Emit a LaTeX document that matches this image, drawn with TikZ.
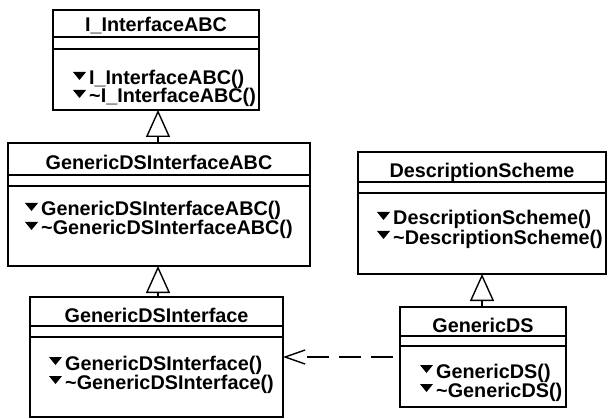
\documentclass[tikz,border=0pt]{standalone}
\usepackage{fontspec}
\setmainfont{Liberation Sans}
\usetikzlibrary{arrows.meta}
\newcommand\umlfont{\bfseries\fontsize{19.8}{20}\selectfont}
\tikzset{
  classbox/.style={draw, rectangle, line width=1.4pt, inner sep=0pt, outer sep=0pt, anchor=north west},
  divider/.style={line width=1.4pt},
  ctitle/.style={inner sep=0pt, anchor=base, font=\umlfont},
  op/.style={inner sep=0pt, anchor=base west, font=\umlfont},
  gen/.style={line width=1.4pt, -{Triangle[open, length=27pt, width=24pt]}},
  dep/.style={line width=1.4pt,
    dash pattern=on 22pt off 10pt on 22pt off 10pt on 22pt off 40pt, dash phase=119pt,
    -{Straight Barb[length=20pt, width=14pt]}},
  opmark/.pic={\fill (0,-13) -- (13,-13) -- (6.5,-5) -- cycle;}
}
\begin{document}
\begin{tikzpicture}[x=1pt, y=-1pt]
\useasboundingbox (0,0) rectangle (609,419);

% I_InterfaceABC
\node[classbox, minimum width=206pt, minimum height=100pt] (b1) at (53,10) {};
\draw[divider] (53,37) -- ++(206,0) (53,49) -- ++(206,0);
\node[ctitle] (b1t) at (156,32) {I\_InterfaceABC};
\pic at (73,85) {opmark};
\node[op] (b1m1) at (89,85) {I\_InterfaceABC()};
\pic at (73,103) {opmark};
\node[op] (b1m2) at (89,103) {\textasciitilde I\_InterfaceABC()};

% GenericDSInterfaceABC
\node[classbox, minimum width=302pt, minimum height=123pt] (b2) at (8,143) {};
\draw[divider] (8,175) -- ++(302,0) (8,186) -- ++(302,0);
\node[ctitle] (b2t) at (159,170) {GenericDSInterfaceABC};
\pic at (25,216) {opmark};
\node[op] (b2m1) at (41,216) {GenericDSInterfaceABC()};
\pic at (25,235) {opmark};
\node[op] (b2m2) at (41,235) {\textasciitilde GenericDSInterfaceABC()};

% GenericDSInterface
\node[classbox, minimum width=253pt, minimum height=120pt] (b3) at (30,297) {};
\draw[divider] (30,326) -- ++(253,0) (30,337) -- ++(253,0);
\node[ctitle] (b3t) at (156.5,322) {GenericDSInterface};
\pic at (49,370) {opmark};
\node[op] (b3m1) at (65,370) {GenericDSInterface()};
\pic at (49,389) {opmark};
\node[op] (b3m2) at (65,389) {\textasciitilde GenericDSInterface()};

% DescriptionScheme
\node[classbox, minimum width=248pt, minimum height=122pt] (b4) at (358,152) {};
\draw[divider] (358,182) -- ++(248,0) (358,193) -- ++(248,0);
\node[ctitle] (b4t) at (482,178) {DescriptionScheme};
\pic at (377,225) {opmark};
\node[op] (b4m1) at (393,225) {DescriptionScheme()};
\pic at (377,244) {opmark};
\node[op] (b4m2) at (393,244) {\textasciitilde DescriptionScheme()};

% GenericDS
\node[classbox, minimum width=166pt, minimum height=100pt] (b5) at (400,307) {};
\draw[divider] (400,336) -- ++(166,0) (400,346) -- ++(166,0);
\node[ctitle] (b5t) at (483,332) {GenericDS};
\pic at (420,378) {opmark};
\node[op] (b5m1) at (436,378) {GenericDS()};
\pic at (420,397) {opmark};
\node[op] (b5m2) at (436,397) {\textasciitilde GenericDS()};

% generalisations
\draw[gen] (b2.north -| 158,0) -- (b1.south -| 158,0);
\draw[gen] (b3.north -| 158,0) -- (b2.south -| 158,0);
\draw[gen] (b5.north -| 482,0) -- (b4.south -| 482,0);

% dependency
\draw[dep] (b5.west) -- (b3.east);
\end{tikzpicture}
\end{document}
